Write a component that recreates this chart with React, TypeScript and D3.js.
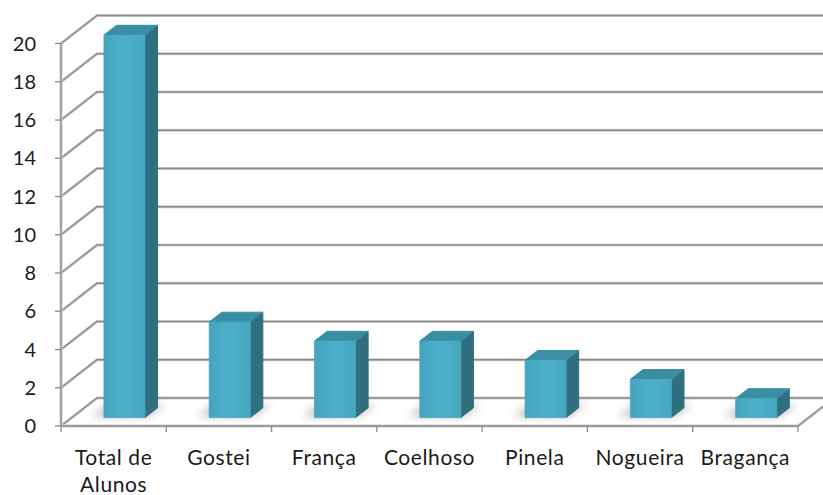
import React from "react";
import * as d3 from "d3";

const categories: string[][] = [["Total de", "Alunos"], ["Gostei"], ["França"], ["Coelhoso"], ["Pinela"], ["Nogueira"], ["Bragança"]];
const values: number[] = [20, 5, 4, 4, 3, 2, 1];
const yTicks: number[] = [0, 2, 4, 6, 8, 10, 12, 14, 16, 18, 20];

const W = 823, H = 495;
const DX = 36, DY = -28;
const TF = 0.3, TB = 0.65;

export default function App() {
  const y = d3.scaleLinear().domain([0, 20]).range([426, 43.5]);
  const x = d3.scaleBand<number>().domain(d3.range(categories.length)).range([61, 798]).padding(0);
  const P = (px: number, py: number, t: number): [number, number] => [px + DX * t, py + DY * t];
  const poly = (pts: [number, number][]) => pts.map((p) => p.join(",")).join(" ");
  const barW = 41;
  const x0 = 61, x1 = 798;
  const font = "Lato, 'Open Sans', sans-serif";

  return (
    <svg width={W} height={H} style={{ display: "block", position: "absolute", left: 0, top: 0 }}>
      <defs>
        <linearGradient id="front" x1="0" x2="1" y1="0" y2="0">
          <stop offset="0" stopColor="#45a4be" />
          <stop offset="0.5" stopColor="#4db0ca" />
          <stop offset="1" stopColor="#46a6c0" />
        </linearGradient>
        <filter id="blur" x="-50%" y="-50%" width="200%" height="200%">
          <feGaussianBlur stdDeviation="4" />
        </filter>
        <clipPath id="clip"><rect x={0} y={0} width={W} height={H} /></clipPath>
      </defs>
      <rect x={0} y={0} width={W} height={H} fill="#ffffff" />
      <g clipPath="url(#clip)">
        {yTicks.map((v) => {
          const a = P(x0, y(v), 0), b = P(x0, y(v), 1), c = P(x1 + 40, y(v), 1);
          return (
            <g key={v}>
              <polyline points={poly([a, b, c])} fill="none" stroke="#d0d0d0" strokeWidth={3} />
              <polyline points={poly([a, b, c])} fill="none" stroke="#8a8a8a" strokeWidth={1.3} />
            </g>
          );
        })}
        {(() => {
          const a = P(x1, y(0), 0), b = P(x1, y(0), 1);
          return (
            <g>
              <line x1={a[0]} y1={a[1]} x2={b[0]} y2={b[1]} stroke="#d0d0d0" strokeWidth={3} />
              <line x1={a[0]} y1={a[1]} x2={b[0]} y2={b[1]} stroke="#8a8a8a" strokeWidth={1.3} />
            </g>
          );
        })()}
        {values.map((v, i) => {
          const bx = (x(i) as number) + (x.bandwidth() - barW) / 2;
          const a = P(bx - 14, y(0), TF + 0.05), b = P(bx + barW, y(0), TF + 0.05);
          const c = P(bx + barW + 4, y(0), TB + 0.1), d = P(bx - 10, y(0), TB + 0.1);
          return <polygon key={"s" + i} points={poly([a, b, c, d])} fill="#7a7a7a" opacity={0.55} filter="url(#blur)" />;
        })}
        {values.map((v, i) => {
          const bx = (x(i) as number) + (x.bandwidth() - barW) / 2;
          const bx2 = bx + barW;
          const fbl = P(bx, y(0), TF), ftl = P(bx, y(v), TF), ftr = P(bx2, y(v), TF), fbr = P(bx2, y(0), TF);
          const bbr = P(bx2, y(0), TB), btr = P(bx2, y(v), TB), btl = P(bx, y(v), TB);
          return (
            <g key={"b" + i} strokeLinejoin="round">
              <polygon points={poly([fbr, bbr, btr, ftr])} fill="#2f6f80" stroke="#2f6f80" strokeWidth={1} />
              <polygon points={poly([ftl, ftr, btr, btl])} fill="#3a8ea4" stroke="#3a8ea4" strokeWidth={1} />
              <polygon points={poly([fbl, ftl, ftr, fbr])} fill="url(#front)" stroke="#47a7c1" strokeWidth={0.8} />
            </g>
          );
        })}
        <line x1={x0} y1={y(0)} x2={x1} y2={y(0)} stroke="#d0d0d0" strokeWidth={3} />
        <line x1={x0} y1={y(0)} x2={x1} y2={y(0)} stroke="#8a8a8a" strokeWidth={1.3} />
        <line x1={x0} y1={y(0)} x2={x0} y2={y(20)} stroke="#d0d0d0" strokeWidth={3} />
        <line x1={x0} y1={y(0)} x2={x0} y2={y(20)} stroke="#8a8a8a" strokeWidth={1.3} />
        {yTicks.map((v) => (
          <line key={"t" + v} x1={x0 - 6} y1={y(v)} x2={x0} y2={y(v)} stroke="#8a8a8a" strokeWidth={1.3} />
        ))}
        {d3.range(categories.length + 1).map((i) => {
          const px = i < categories.length ? (x(i) as number) : x1;
          return <line key={"xt" + i} x1={px} y1={y(0)} x2={px} y2={y(0) + 6} stroke="#8a8a8a" strokeWidth={1.3} />;
        })}
        {yTicks.map((v) => (
          <text key={"l" + v} x={36} y={y(v)} dy="0.36em" textAnchor="end" fontFamily={font} fontSize={20} fill="#1a1a1a">
            {v}
          </text>
        ))}
        {categories.map((lines, i) => (
          <text key={"c" + i} x={(x(i) as number) + x.bandwidth() / 2} y={465} textAnchor="middle" fontFamily={font} fontSize={21} letterSpacing={0.6} fill="#1a1a1a">
            {lines.map((l, j) => (
              <tspan key={j} x={(x(i) as number) + x.bandwidth() / 2} dy={j === 0 ? 0 : 27}>{l}</tspan>
            ))}
          </text>
        ))}
      </g>
    </svg>
  );
}
